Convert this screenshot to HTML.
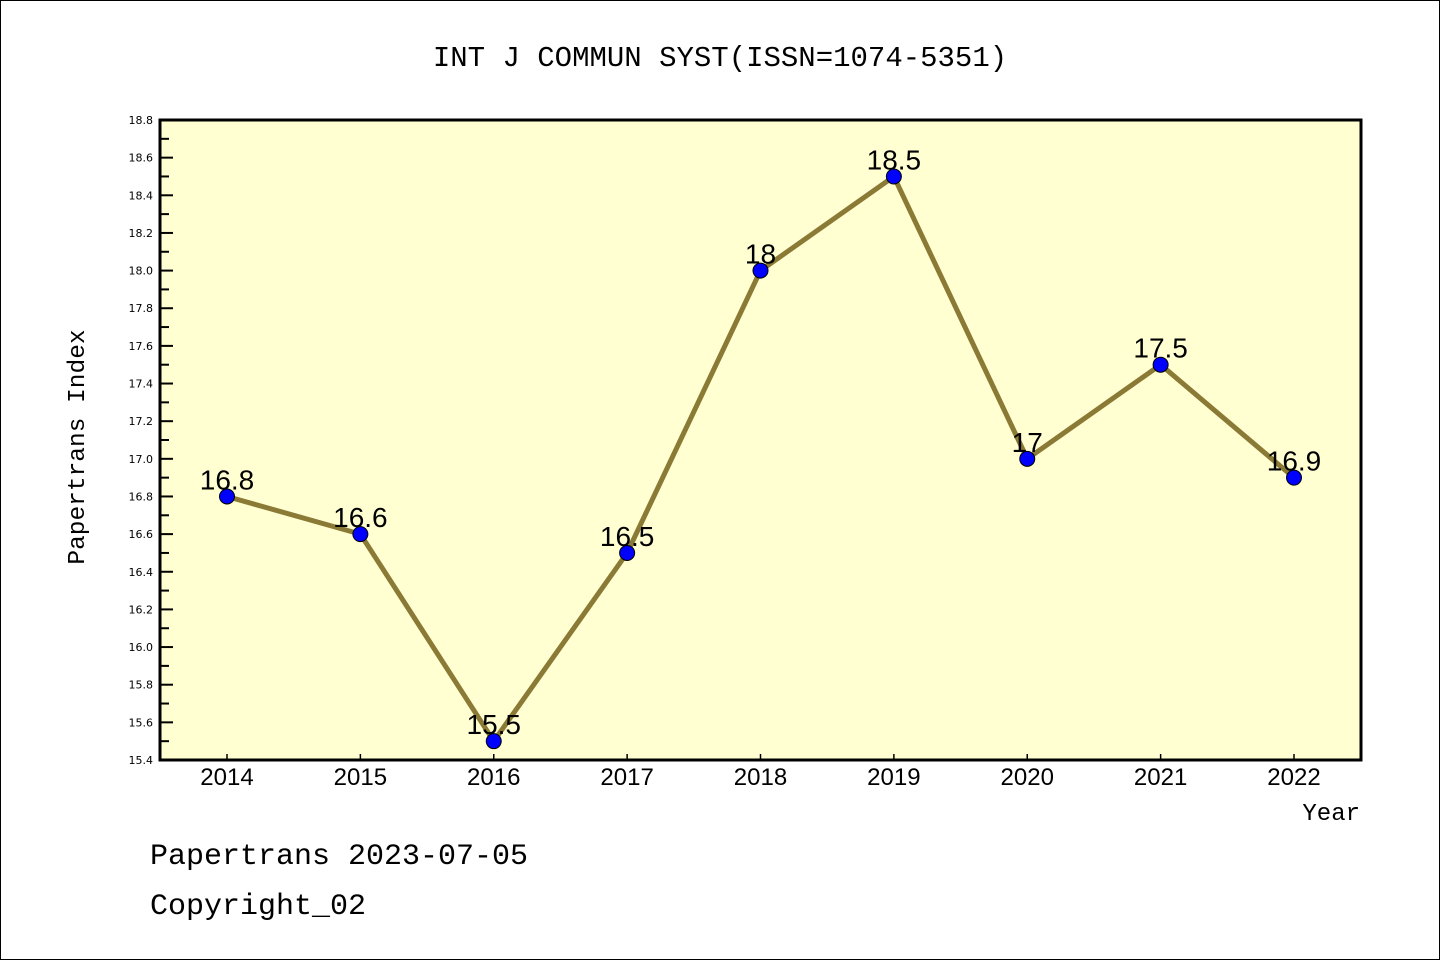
<!DOCTYPE html>
<html><head><meta charset="utf-8"><style>
html,body{margin:0;padding:0;background:#fff;}
svg{display:block;font-family:"Liberation Mono","DejaVu Sans Mono",monospace;}
</style></head><body>
<svg width="1440" height="960" viewBox="0 0 1440 960">
<rect x="0.5" y="0.5" width="1439" height="959" fill="#fff" stroke="#000" stroke-width="1"/>
<text x="720" y="66" text-anchor="middle" font-size="29" fill="#000">INT J COMMUN SYST(ISSN=1074-5351)</text>
<rect x="160" y="120" width="1201" height="640" fill="#ffffd2"/>
<g id="axes"></g>
<g id="series"></g>
<rect x="160" y="120" width="1201" height="640" fill="none" stroke="#000" stroke-width="3"/>
<text transform="translate(84,447) rotate(-90)" text-anchor="middle" font-size="24.5" fill="#000">Papertrans Index</text>
<text x="1360" y="820" text-anchor="end" font-size="24" fill="#000">Year</text>
<text x="150" y="864" font-size="30" fill="#000">Papertrans 2023-07-05</text>
<text x="150" y="914" font-size="30" fill="#000">Copyright_02</text>
</svg>
<script>
const years = [2014,2015,2016,2017,2018,2019,2020,2021,2022];
const values = [16.8,16.6,15.5,16.5,18.0,18.5,17.0,17.5,16.9];
const valueLabels = ["16.8","16.6","15.5","16.5","18","18.5","17","17.5","16.9"];
const yTicks = [15.4,15.6,15.8,16.0,16.2,16.4,16.6,16.8,17.0,17.2,17.4,17.6,17.8,18.0,18.2,18.4,18.6,18.8];
const NS="http://www.w3.org/2000/svg";
const yMin=15.4,yMax=18.8,plotTop=120,plotBot=760;
function yS(v){return plotBot-(v-yMin)/(yMax-yMin)*(plotBot-plotTop);}
function xS(yr){return 227+(yr-2014)*133.375;}
function mk(tag,attrs,parent){const e=document.createElementNS(NS,tag);for(const k in attrs)e.setAttribute(k,attrs[k]);parent.appendChild(e);return e;}
const axes=document.getElementById('axes'), ser=document.getElementById('series');
for(let i=0;i<yTicks.length;i++){
  const v=yTicks[i],y=yS(v);
  const t=mk('line',{x1:160,x2:173,y1:y,y2:y,stroke:'#000','stroke-width':2},axes);
  
  
  const l=mk('text',{x:153,y:y+4,'text-anchor':'end','font-size':11,fill:'#000','font-family':'DejaVu Sans, sans-serif'},axes);
  l.textContent=v.toFixed(1);
  
  
  if(i<yTicks.length-1){
    const ym=yS(v+0.1);
    const m=mk('line',{x1:160,x2:169,y1:ym,y2:ym,stroke:'#000','stroke-width':2},axes);
    
    
  }
}
years.forEach(yr=>{
  const x=xS(yr);
  const t=mk('line',{x1:x,x2:x,y1:760,y2:754,stroke:'#000','stroke-width':1.5},axes);
  
  
  const l=mk('text',{x:x,y:785,'text-anchor':'middle','font-size':24,fill:'#000','font-family':'Liberation Sans, sans-serif'},axes);
  l.textContent=String(yr);
  
  
});
const pts=years.map((yr,i)=>xS(yr)+','+yS(values[i])).join(' ');
const line=mk('polyline',{points:pts,fill:'none',stroke:'#8b7a35','stroke-width':5,'stroke-linejoin':'round'},ser);


years.forEach((yr,i)=>{
  const l=mk('text',{x:xS(yr),y:yS(values[i])-7,'text-anchor':'middle','font-size':28,fill:'#000','font-family':'Liberation Sans, sans-serif'},ser);
  l.textContent=valueLabels[i];
  
  
});
years.forEach((yr,i)=>{
  const c=mk('circle',{cx:xS(yr),cy:yS(values[i]),r:7.5,fill:'#0000ff',stroke:'#000','stroke-width':1},ser);
  
  
});
</script>
</body></html>
